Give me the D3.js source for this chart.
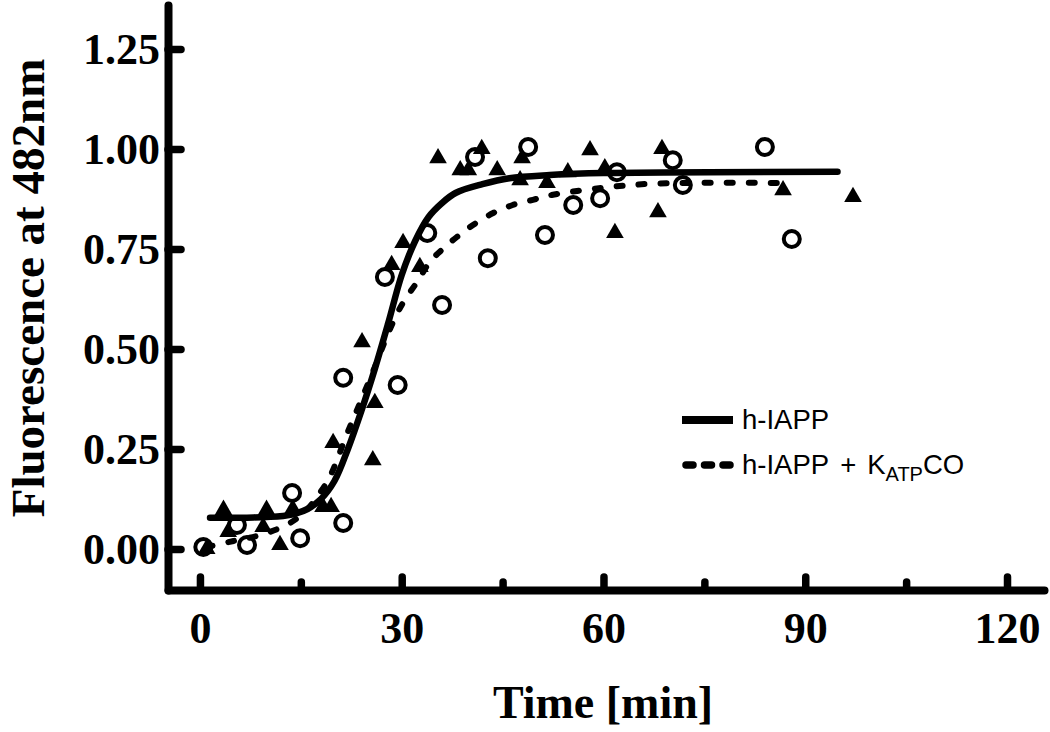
<!DOCTYPE html>
<html><head><meta charset="utf-8">
<script src="https://cdn.jsdelivr.net/npm/d3@7"></script>
<style>
html,body{margin:0;padding:0;background:#fff;}
svg{display:block;}
</style></head>
<body>
<svg id="chart" width="1050" height="732"></svg>
<script>
// ---- data ----
const triTime = [1, 3.5, 4.2, 9.4, 9.9, 11.9, 13.8, 18.3, 19.5, 19.8, 24.1, 25.7, 26, 28.5, 30.2, 32.7, 35.4, 38.7, 39.9, 41.9, 44.2, 47.6, 47.9, 51.6, 54.7, 58, 60.2, 61.7, 68.1, 68.7, 86.7, 97.1];
const triValue = [0.0, 0.098, 0.043, 0.055, 0.098, 0.01, 0.1, 0.105, 0.105, 0.265, 0.517, 0.222, 0.365, 0.71, 0.765, 0.705, 0.977, 0.947, 0.947, 1.0, 0.947, 0.922, 0.977, 0.915, 0.942, 0.997, 0.952, 0.79, 0.842, 1.0, 0.897, 0.88];
const circTime = [0.5, 5.5, 7, 13.7, 14.9, 21.3, 21.3, 27.5, 29.4, 33.8, 36, 40.9, 42.8, 48.8, 51.3, 55.5, 59.5, 62, 70.3, 71.8, 84, 88];
const circValue = [0.005, 0.06, 0.01, 0.14, 0.027, 0.428, 0.065, 0.68, 0.41, 0.79, 0.61, 0.98, 0.727, 1.005, 0.785, 0.86, 0.877, 0.942, 0.972, 0.91, 1.005, 0.775];
const fitSolidTime = [1.5, 8, 13, 16, 18, 20, 22, 24, 26, 28, 30, 32, 34, 36, 38, 42, 46, 52, 60, 94.8];
const fitSolidValue = [0.078, 0.079, 0.084, 0.1, 0.125, 0.17, 0.25, 0.345, 0.45, 0.565, 0.685, 0.77, 0.83, 0.865, 0.89, 0.912, 0.927, 0.935, 0.94, 0.943];
const fitDashTime = [1, 5, 9, 13.4, 16, 17.4, 19.3, 21.8, 23.8, 26, 28, 30, 32.3, 34.2, 36.1, 38.2, 40.6, 43.6, 46.5, 49.5, 52.3, 58.4, 66.9, 87];
const fitDashValue = [0.005, 0.02, 0.035, 0.065, 0.1, 0.13, 0.18, 0.285, 0.365, 0.455, 0.54, 0.61, 0.668, 0.718, 0.75, 0.78, 0.81, 0.84, 0.86, 0.873, 0.885, 0.9, 0.913, 0.915];
const xTicksMajor = [0, 30, 60, 90, 120];
const xTicksMinor = [15, 45, 75, 105];
const yTicks = [0, 0.25, 0.5, 0.75, 1.0, 1.25];
const xTitle = "Time [min]";
const yTitle = "Fluorescence at 482nm";
const legendLabels = ["h-IAPP", "h-IAPP", "+", "K", "ATP", "CO"];

// ---- layout ----
const svg = d3.select("#chart");
const x = d3.scaleLinear().domain([-4.75, 125.5]).range([168, 1044]);
const y = d3.scaleLinear().domain([-0.1025, 1.36]).range([590, 5]);
const serif = "'Liberation Serif','Times New Roman',serif";
const sans = "'Liberation Sans',Arial,sans-serif";

// axes
const yAxis = svg.append("g").attr("transform", `translate(${x.range()[0]},0)`)
  .call(d3.axisLeft(y).tickValues(yTicks).tickFormat(d3.format(".2f")).tickSize(-13).tickSizeOuter(0).tickPadding(8));
const xAxis = svg.append("g").attr("transform", `translate(0,${y.range()[0]})`)
  .call(d3.axisBottom(x).tickValues(xTicksMajor).tickFormat(d3.format("d")).tickSize(-13).tickSizeOuter(0).tickPadding(22));
const xMinor = svg.append("g").attr("transform", `translate(0,${y.range()[0]})`)
  .call(d3.axisBottom(x).tickValues(xTicksMinor).tickFormat("").tickSize(-8).tickSizeOuter(0));
xMinor.select(".domain").remove();
[yAxis, xAxis, xMinor].forEach(g => {
  g.select(".domain").attr("stroke", "#000").attr("stroke-width", 8).attr("stroke-linecap", "round");
  g.selectAll(".tick line").attr("stroke", "#000").attr("stroke-width", 7.5).attr("stroke-linecap", "round");
  g.selectAll(".tick text").attr("fill", "#000").attr("font-family", serif).attr("font-weight", "bold").attr("font-size", 44);
});

// titles
svg.append("text").attr("x", 603).attr("y", 718).attr("text-anchor", "middle")
  .attr("font-family", serif).attr("font-weight", "bold").attr("font-size", 46).text(xTitle);
svg.append("text").attr("transform", "translate(44,288) rotate(-90)").attr("text-anchor", "middle")
  .attr("font-family", serif).attr("font-weight", "bold").attr("font-size", 47).text(yTitle);

// markers
const tri = d3.symbol().type(d3.symbolTriangle).size(135);
svg.append("g").selectAll("path").data(triTime.map((t, i) => [t, triValue[i]])).join("path")
  .attr("d", tri).attr("transform", d => `translate(${x(d[0])},${y(d[1])})`).attr("fill", "#000");
svg.append("g").selectAll("circle").data(circTime.map((t, i) => [t, circValue[i]])).join("circle")
  .attr("cx", d => x(d[0])).attr("cy", d => y(d[1])).attr("r", 8)
  .attr("fill", "none").attr("stroke", "#000").attr("stroke-width", 4);

// fit curves
const line = d3.line().x(d => x(d[0])).y(d => y(d[1])).curve(d3.curveCatmullRom.alpha(0.5));
svg.append("path").datum(fitSolidTime.map((t, i) => [t, fitSolidValue[i]])).attr("d", line)
  .attr("fill", "none").attr("stroke", "#000").attr("stroke-width", 6.5).attr("stroke-linecap", "round");
svg.append("path").datum(fitDashTime.map((t, i) => [t, fitDashValue[i]])).attr("d", line)
  .attr("fill", "none").attr("stroke", "#000").attr("stroke-width", 6).attr("stroke-linecap", "round")
  .attr("stroke-dasharray", "6,16");

// legend
const lg = svg.append("g");
lg.append("line").attr("x1", 682).attr("x2", 733).attr("y1", 420).attr("y2", 420)
  .attr("stroke", "#000").attr("stroke-width", 8);
lg.append("line").attr("x1", 686).attr("x2", 731).attr("y1", 465).attr("y2", 465)
  .attr("stroke", "#000").attr("stroke-width", 7.5).attr("stroke-linecap", "round").attr("stroke-dasharray", "7,11.5");
lg.append("text").attr("x", 742).attr("y", 429).attr("font-family", sans).attr("font-size", 27.5).text(legendLabels[0]);
const t2 = lg.append("text").attr("x", 742).attr("y", 474).attr("font-family", sans).attr("font-size", 27.5);
t2.append("tspan").text(legendLabels[1]);
t2.append("tspan").attr("dx", 11).text(legendLabels[2]);
t2.append("tspan").attr("dx", 11).text(legendLabels[3]);
t2.append("tspan").attr("font-size", 20).attr("dy", 7).text(legendLabels[4]);
t2.append("tspan").attr("dy", -7).text(legendLabels[5]);
</script>
</body></html>
